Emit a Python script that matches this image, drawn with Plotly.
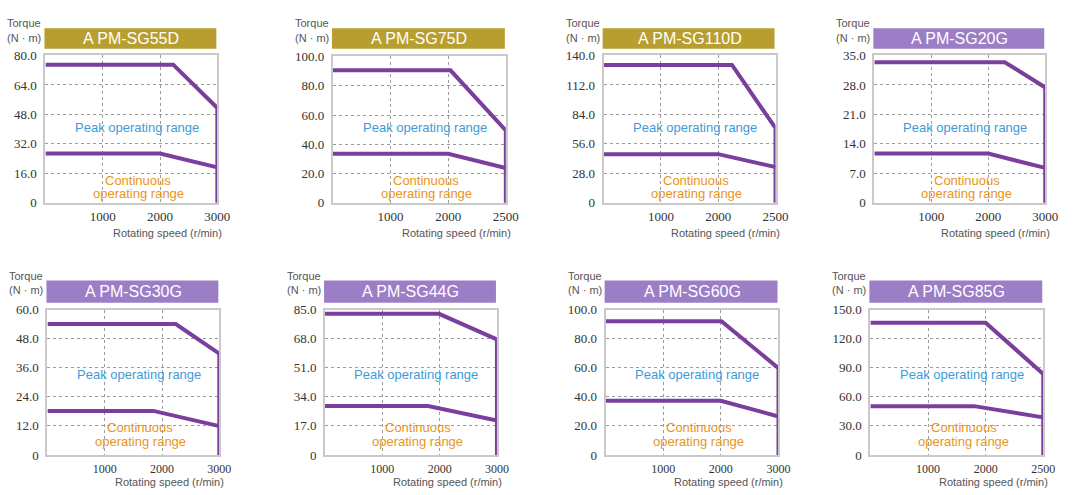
import numpy as np
import plotly.graph_objects as go

# ---------------- data ----------------
models = ["A PM-SG55D", "A PM-SG75D", "A PM-SG110D", "A PM-SG20G",
          "A PM-SG30G", "A PM-SG44G", "A PM-SG60G", "A PM-SG85G"]
series = ["D", "D", "D", "G", "G", "G", "G", "G"]
max_speed = [3000, 2500, 2500, 3000, 3000, 3000, 3000, 2500]
torque_axis_max = [80, 100, 140, 35, 60, 85, 100, 150]
x_tick_labels = [[1000, 2000, 3000], [1000, 2000, 2500], [1000, 2000, 2500], [1000, 2000, 3000],
                 [1000, 2000, 3000], [1000, 2000, 3000], [1000, 2000, 3000], [1000, 2000, 2500]]

peak_torque = [75.0, 90.5, 131.0, 33.4, 54.0, 82.5, 92.0, 136.5]
peak_knee_speed = [2230, 2020, 2120, 2290, 2240, 1990, 2010, 2000]
peak_end_torque = [51.5, 49.5, 71.0, 27.4, 41.8, 67.5, 59.7, 83.5]

cont_torque = [26.8, 33.5, 46.3, 11.7, 18.2, 28.6, 37.3, 50.4]
cont_knee_speed = [2000, 2000, 2000, 2000, 1850, 1800, 2000, 1800]
cont_end_torque = [19.3, 23.8, 34.0, 8.3, 11.9, 20.1, 26.5, 38.8]

peak_label = "Peak operating range"
cont_label = ["Continuous", "operating range"]
y_title = ["Torque", "(N · m)"]
x_title = "Rotating speed (r/min)"

# ---------------- layout geometry (pixels) ----------------
W, H = 1078, 495
panels = [(46, 50, 220, 202), (337, 51, 512, 202), (611, 50, 785, 202), (885, 50, 1058, 202),
          (48, 312, 222, 462), (329, 312, 503, 462), (613, 312, 788, 462), (881, 312, 1056, 462)]
bar_colors = {"D": "#B89E2E", "G": "#9C7EC6"}
LINE = "#7A3E9D"


def px_x(v):
    return v / W


def px_y(v):
    return 1 - v / H


def speed_to_axis(speed, smax):
    # the chart draws its grid as 3 evenly spaced divisions: 1000, 2000, max speed
    return np.interp(speed, [0, 1000, 2000, smax], [0, 1000, 2000, 3000])


fig = go.Figure()
layout = dict(width=W, height=H, margin=dict(l=0, r=0, t=0, b=0),
              paper_bgcolor="white", plot_bgcolor="white", showlegend=False)
shapes, annotations = [], []

for i in range(8):
    n = "" if i == 0 else str(i + 1)
    L, T, R, B = panels[i]
    top_row = i < 4
    smax = max_speed[i]

    px_speeds = [0, peak_knee_speed[i], smax, smax]
    py = [peak_torque[i], peak_torque[i], peak_end_torque[i], 0]
    cx_speeds = [0, cont_knee_speed[i], smax]
    cy = [cont_torque[i], cont_torque[i], cont_end_torque[i]]

    fig.add_trace(go.Scatter(x=speed_to_axis(px_speeds, smax), y=py, mode="lines",
                             line=dict(color=LINE, width=4), xaxis="x" + n, yaxis="y" + n,
                             hoverinfo="skip"))
    fig.add_trace(go.Scatter(x=speed_to_axis(cx_speeds, smax), y=cy, mode="lines",
                             line=dict(color=LINE, width=4), xaxis="x" + n, yaxis="y" + n,
                             hoverinfo="skip"))

    ymax = torque_axis_max[i]
    yt = [ymax * k / 5 for k in range(6)]
    ytt = ["0" if v == 0 else f"{v:.1f}" for v in yt]
    xt_labels = x_tick_labels[i]
    xt = list(speed_to_axis(xt_labels, smax))

    common = dict(showline=True, mirror=True, linecolor="#C9C9C9", linewidth=2,
                  showgrid=True, gridcolor="#9A9A9A", gridwidth=1, griddash="dot",
                  zeroline=False, ticks="")
    layout["xaxis" + n] = dict(common, domain=[px_x(L), px_x(R)], anchor="y" + n,
                               range=[0, 3000], tickvals=xt, ticktext=[str(v) for v in xt_labels],
                               ticklabelstandoff=1 if top_row else 2,
                               tickfont=dict(family="Liberation Serif", size=13 if top_row else 12,
                                             color="#333333"))
    layout["yaxis" + n] = dict(common, domain=[px_y(B), px_y(T)], anchor="x" + n,
                               range=[0, ymax], tickvals=yt, ticktext=ytt,
                               ticklabelstandoff=4,
                               tickfont=dict(family="Liberation Serif", size=13, color="#333333"))

    # title bar
    bt, bb = (22, 43) if top_row else (282, 305)
    shapes.append(dict(type="rect", xref="paper", yref="paper",
                       x0=px_x(L - 1), x1=px_x(R - 1), y0=px_y(bb), y1=px_y(bt),
                       fillcolor=bar_colors[series[i]], line=dict(width=0), layer="above"))
    annotations.append(dict(xref="paper", yref="paper", x=px_x((L + R) / 2), y=px_y((bt + bb) / 2),
                            text=models[i], showarrow=False, xanchor="center", yanchor="middle",
                            font=dict(family="Liberation Sans", size=16, color="white")))

    # axis titles
    for j, t in enumerate(y_title):
        yy = bt - 5 + 15 * j
        annotations.append(dict(xref="paper", yref="paper", x=px_x(L - 2), y=px_y(yy),
                                text=t, showarrow=False, xanchor="right", yanchor="middle",
                                font=dict(family="Liberation Sans Narrow, Liberation Sans",
                                          size=11, color="#555555")))
    xty = B + (31 if top_row else 27.5)
    annotations.append(dict(xref="paper", yref="paper", x=px_x(R + 7), y=px_y(xty),
                            text=x_title, showarrow=False, xanchor="right", yanchor="middle",
                            font=dict(family="Liberation Sans", size=11, color="#555555")))

    # range labels
    ax = "x" + n
    ay = "y" + n
    annotations.append(dict(xref=ax + " domain", yref=ay + " domain", x=0.53,
                            y=0.513 if top_row else 0.553, text=peak_label, showarrow=False,
                            xanchor="center", yanchor="middle",
                            font=dict(family="Liberation Sans", size=13, color="#3E9BD8")))
    cys = [0.15, 0.065] if top_row else [0.19, 0.095]
    for j, t in enumerate(cont_label):
        annotations.append(dict(xref=ax + " domain", yref=ay + " domain", x=0.54, y=cys[j],
                                text=t, showarrow=False, xanchor="center", yanchor="middle",
                                font=dict(family="Liberation Sans", size=13, color="#E8951D")))

layout["shapes"] = shapes
layout["annotations"] = annotations
fig.update_layout(**layout)

post = (
    "document.documentElement.style.margin='0';"
    "document.documentElement.style.overflow='hidden';"
    "document.body.style.margin='0';"
    "document.body.style.overflow='hidden';"
)
fig.write_html("out.html", config={"displayModeBar": False}, post_script=post)
